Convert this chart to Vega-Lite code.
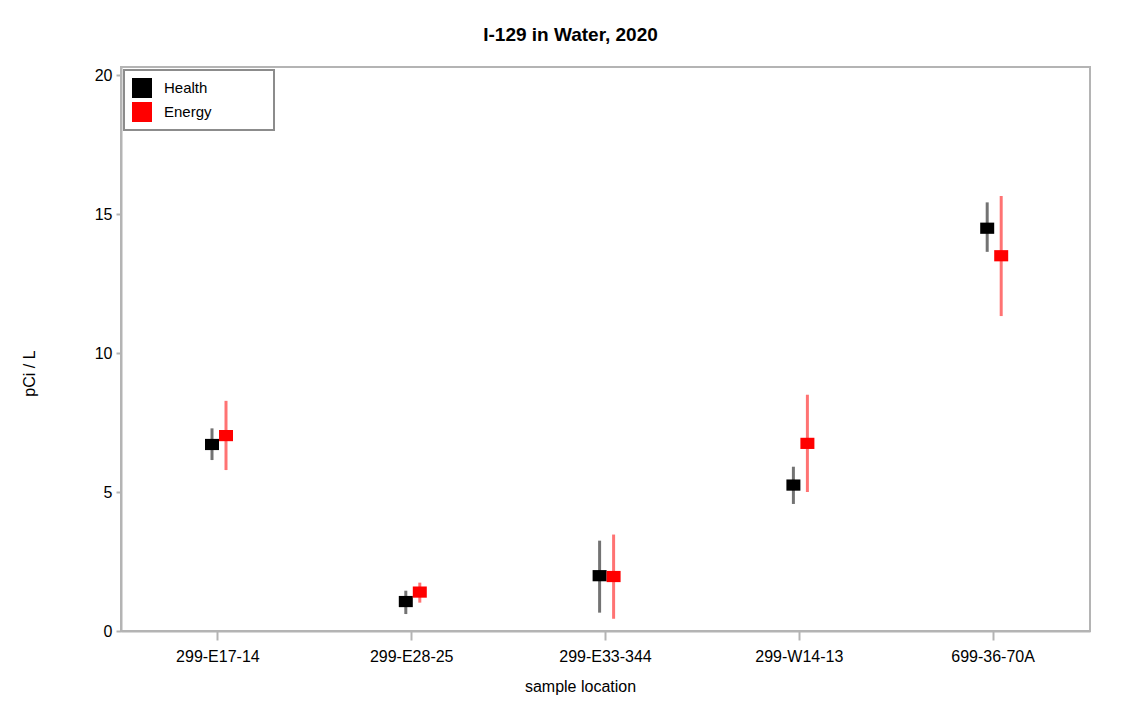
{
  "$schema": "https://vega.github.io/schema/vega-lite/v6.json",
  "width": 969,
  "height": 564,
  "autosize": {"type": "none"},
  "padding": {"left": 121, "top": 67, "right": 51, "bottom": 83},
  "background": "white",
  "config": {
    "font": "Liberation Sans",
    "view": {"stroke": "#b4b4b4", "strokeWidth": 2},
    "axis": {"labelFont": "Liberation Sans", "titleFont": "Liberation Sans", "labelColor": "#000", "titleColor": "#000", "domainColor": "#b4b4b4", "domainWidth": 2, "tickColor": "#b4b4b4", "tickWidth": 2, "grid": false, "labelFontSize": 16, "titleFontSize": 16, "titleFontWeight": "normal"},
    "legend": {"strokeWidth": 2}
  },
  "title": {"text": "I-129 in Water, 2020", "font": "Liberation Sans", "fontSize": 19, "fontWeight": "bold", "color": "#000", "anchor": "middle", "dx": -35, "offset": 22},
  "data": {"values": [
    {"location": "299-E17-14", "source": "Health", "value": 6.71, "low": 6.15, "high": 7.29},
    {"location": "299-E17-14", "source": "Energy", "value": 7.03, "low": 5.79, "high": 8.28},
    {"location": "299-E28-25", "source": "Health", "value": 1.06, "low": 0.61, "high": 1.45},
    {"location": "299-E28-25", "source": "Energy", "value": 1.4, "low": 1.02, "high": 1.74},
    {"location": "299-E33-344", "source": "Health", "value": 1.99, "low": 0.66, "high": 3.25},
    {"location": "299-E33-344", "source": "Energy", "value": 1.96, "low": 0.44, "high": 3.47},
    {"location": "299-W14-13", "source": "Health", "value": 5.25, "low": 4.57, "high": 5.91},
    {"location": "299-W14-13", "source": "Energy", "value": 6.75, "low": 5.0, "high": 8.5},
    {"location": "699-36-70A", "source": "Health", "value": 14.49, "low": 13.64, "high": 15.42},
    {"location": "699-36-70A", "source": "Energy", "value": 13.5, "low": 11.33, "high": 15.65}
  ]},
  "encoding": {
    "x": {"field": "location", "type": "nominal", "sort": null, "scale": {"type": "band", "paddingInner": 0, "paddingOuter": 0},
      "axis": {"title": "sample location", "labelAngle": 0, "tickSize": 9, "labelPadding": 8, "titlePadding": 14, "titleX": 459}},
    "xOffset": {"field": "source", "type": "nominal", "sort": ["Health", "Energy"], "scale": {"type": "point", "padding": 0, "range": [91, 105]}},
    "color": {"field": "source", "type": "nominal", "sort": ["Health", "Energy"], "scale": {"domain": ["Health", "Energy"], "range": ["#000000", "#ff0000"]},
      "legend": {"title": null, "orient": "top-left", "offset": 3, "padding": 8, "rowPadding": 4, "symbolType": "square", "symbolSize": 400, "symbolStrokeWidth": 0, "symbolOpacity": 1, "labelOffset": 12, "labelFontSize": 15, "labelFont": "Liberation Sans", "labelColor": "#000", "strokeColor": "#8c8c8c", "fillColor": "white", "labelLimit": 300, "labelExpr": "datum.label + '\u00a0\u00a0\u00a0\u00a0\u00a0\u00a0\u00a0\u00a0\u00a0\u00a0\u00a0\u00a0\u00a0\u200b'"}}
  },
  "layer": [
    {
      "mark": {"type": "rule", "strokeWidth": 3, "opacity": 0.55},
      "encoding": {
        "y": {"field": "low", "type": "quantitative", "scale": {"domain": [0, 20.29], "nice": false}, "axis": {"title": "pCi / L", "values": [0, 5, 10, 15, 20], "tickSize": 5, "labelPadding": 4, "titleX": -84, "titleY": 306}},
        "y2": {"field": "high"}
      }
    },
    {
      "mark": {"type": "point", "filled": true, "opacity": 1, "shape": "M-1,-0.8H1V0.8H-1Z", "size": 196},
      "encoding": {
        "y": {"field": "value", "type": "quantitative"}
      }
    }
  ]
}
